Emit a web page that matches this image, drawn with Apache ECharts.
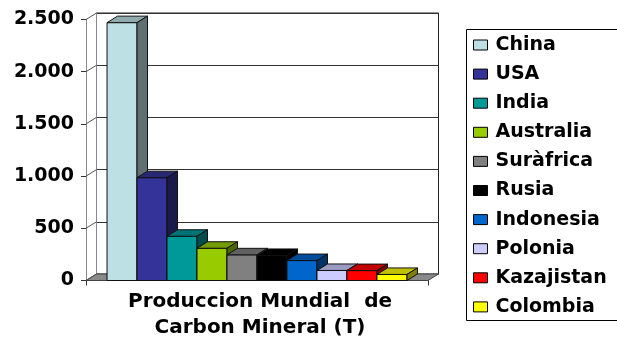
<!DOCTYPE html>
<html><head><meta charset="utf-8">
<script src="https://cdn.jsdelivr.net/npm/echarts@6/dist/echarts.min.js"></script>
<style>html,body{margin:0;padding:0;background:#fff}#c{width:617px;height:340px}</style>
</head><body><div id="c"></div>
<script>
// ---- data ----
const countries = ['China', 'USA', 'India', 'Australia', 'Suràfrica', 'Rusia', 'Indonesia', 'Polonia', 'Kazajistan', 'Colombia'];
const production = [2470, 985, 424, 309, 246, 240, 191, 96, 95, 58];
const category = ['Produccion Mundial  de\nCarbon Mineral (T)'];
const yTicks = [0, 500, 1000, 1500, 2000, 2500];

// ---- styles ----
const colors = ['#BDE0E4', '#333399', '#009999', '#99CC00', '#808080', '#000000', '#0066CC', '#CCCCFF', '#FF0000', '#FFFF00'];
const DX = 10.5, DY = -6.5;      // 3D depth offset
const BAR_SPAN = 0.877;          // share of the category band filled by bars
const FONT = 'DejaVu Sans';

function shade(hex, f) {
  const n = parseInt(hex.slice(1), 16);
  const r = Math.round(((n >> 16) & 255) * f), g = Math.round(((n >> 8) & 255) * f), b = Math.round((n & 255) * f);
  return 'rgb(' + r + ',' + g + ',' + b + ')';
}
function fmt(v) { return String(v).replace(/\B(?=(\d{3})+(?!\d))/g, '.'); }

const chart = echarts.init(document.getElementById('c'), null, { renderer: 'canvas' });

const barSeries = countries.map((name, i) => ({
  type: 'custom', name, xAxisIndex: 0, yAxisIndex: 0, z: 3,
  itemStyle: { color: colors[i] },
  data: [[0, production[i]]],
  renderItem(params, api) {
    const v = api.value(1);
    const base = api.coord([0, 0]);
    const top = api.coord([0, v]);
    const band = api.size([1, 0])[0];
    const span = band * BAR_SPAN;
    const w = span / countries.length;
    const x0 = base[0] - span / 2 + i * w, x1 = x0 + w;
    const y0 = base[1], y1 = top[1];
    const c = colors[i], stroke = '#111';
    return { type: 'group', children: [
      { type: 'polygon', shape: { points: [[x0, y1], [x1, y1], [x1, y0], [x0, y0]] }, style: { fill: c, stroke, lineWidth: 1 } },
      { type: 'polygon', shape: { points: [[x0, y1], [x0 + DX, y1 + DY], [x1 + DX, y1 + DY], [x1, y1]] }, style: { fill: shade(c, 0.76), stroke, lineWidth: 1 } },
      { type: 'polygon', shape: { points: [[x1, y1], [x1 + DX, y1 + DY], [x1 + DX, y0 + DY], [x1, y0]] }, style: { fill: shade(c, 0.5), stroke, lineWidth: 1 } }
    ] };
  }
}));

const wallSeries = {
  type: 'custom', name: 'walls', xAxisIndex: 0, yAxisIndex: 0, z: 1, silent: true,
  data: yTicks.map(t => [0, t]),
  renderItem(params, api) {
    const cs = params.coordSys;
    const y = api.coord([0, api.value(1)])[1];
    const children = [];
    if (params.dataIndex === 0) {
      children.push({ type: 'polygon', shape: { points: [[cs.x, y], [cs.x + cs.width, y], [cs.x + cs.width + DX, y + DY], [cs.x + DX, y + DY]] },
        style: { fill: '#8a8a8a', stroke: '#444', lineWidth: 1 } });
    }
    children.push({ type: 'line', shape: { x1: cs.x, y1: y, x2: cs.x + DX, y2: y + DY }, style: { stroke: '#555', lineWidth: 1 } });
    return { type: 'group', children };
  }
};

const labelFont = { fontFamily: FONT, fontWeight: 'bold', fontSize: 19, color: '#000' };

chart.setOption({
  animation: false,
  backgroundColor: '#fff',
  graphic: [
    { type: 'rect', left: 466, top: 29, z: -1, silent: true,
      shape: { width: 180, height: 291 }, style: { fill: '#fff', stroke: '#000', lineWidth: 1 } }
  ],
  grid: [
    { left: 86, top: 19.5, width: 342, height: 261, outerBoundsMode: 'none', containLabel: false },
    { left: 86 + DX, top: 19.5 + DY, width: 342, height: 261, outerBoundsMode: 'none', containLabel: false,
      show: true, borderColor: '#222', borderWidth: 1, backgroundColor: 'transparent' }
  ],
  xAxis: [
    { type: 'category', gridIndex: 0, data: category, boundaryGap: true,
      axisLine: { show: true, lineStyle: { color: '#444', width: 1 } },
      axisTick: { show: true, length: 5, lineStyle: { color: '#333' } },
      axisLabel: { show: true, margin: 8, padding: [0, 0, 0, 6], lineHeight: 26, fontFamily: FONT, fontWeight: 'bold', fontSize: 20, color: '#000' },
      splitLine: { show: false } },
    { type: 'category', gridIndex: 1, data: category, show: false }
  ],
  yAxis: [
    { type: 'value', gridIndex: 0, min: 0, max: 2500, interval: 500,
      axisLine: { show: true, lineStyle: { color: '#888', width: 1 } },
      axisTick: { show: true, length: 5, lineStyle: { color: '#333' } },
      axisLabel: Object.assign({ margin: 12, formatter: fmt }, labelFont),
      splitLine: { show: false } },
    { type: 'value', gridIndex: 1, min: 0, max: 2500, interval: 500,
      axisLine: { show: true, lineStyle: { color: '#888', width: 1 } },
      axisTick: { show: false }, axisLabel: { show: false },
      splitLine: { show: true, lineStyle: { color: '#333', width: 1 } } }
  ],
  legend: {
    data: countries, orient: 'vertical', left: 466, top: 29,
    padding: [6, 10, 4, 7], itemGap: 9.1, itemWidth: 14, itemHeight: 10,
    icon: 'path://M0,0H14V10H0Z', symbolKeepAspect: false, selectedMode: false,
    itemStyle: { borderColor: '#000', borderWidth: 1 },
    textStyle: { fontFamily: FONT, fontWeight: 'bold', fontSize: 19, lineHeight: 20, color: '#000', padding: [0, 0, 0, 3] }
  },
  series: [wallSeries].concat(barSeries)
});
</script>
</body></html>
